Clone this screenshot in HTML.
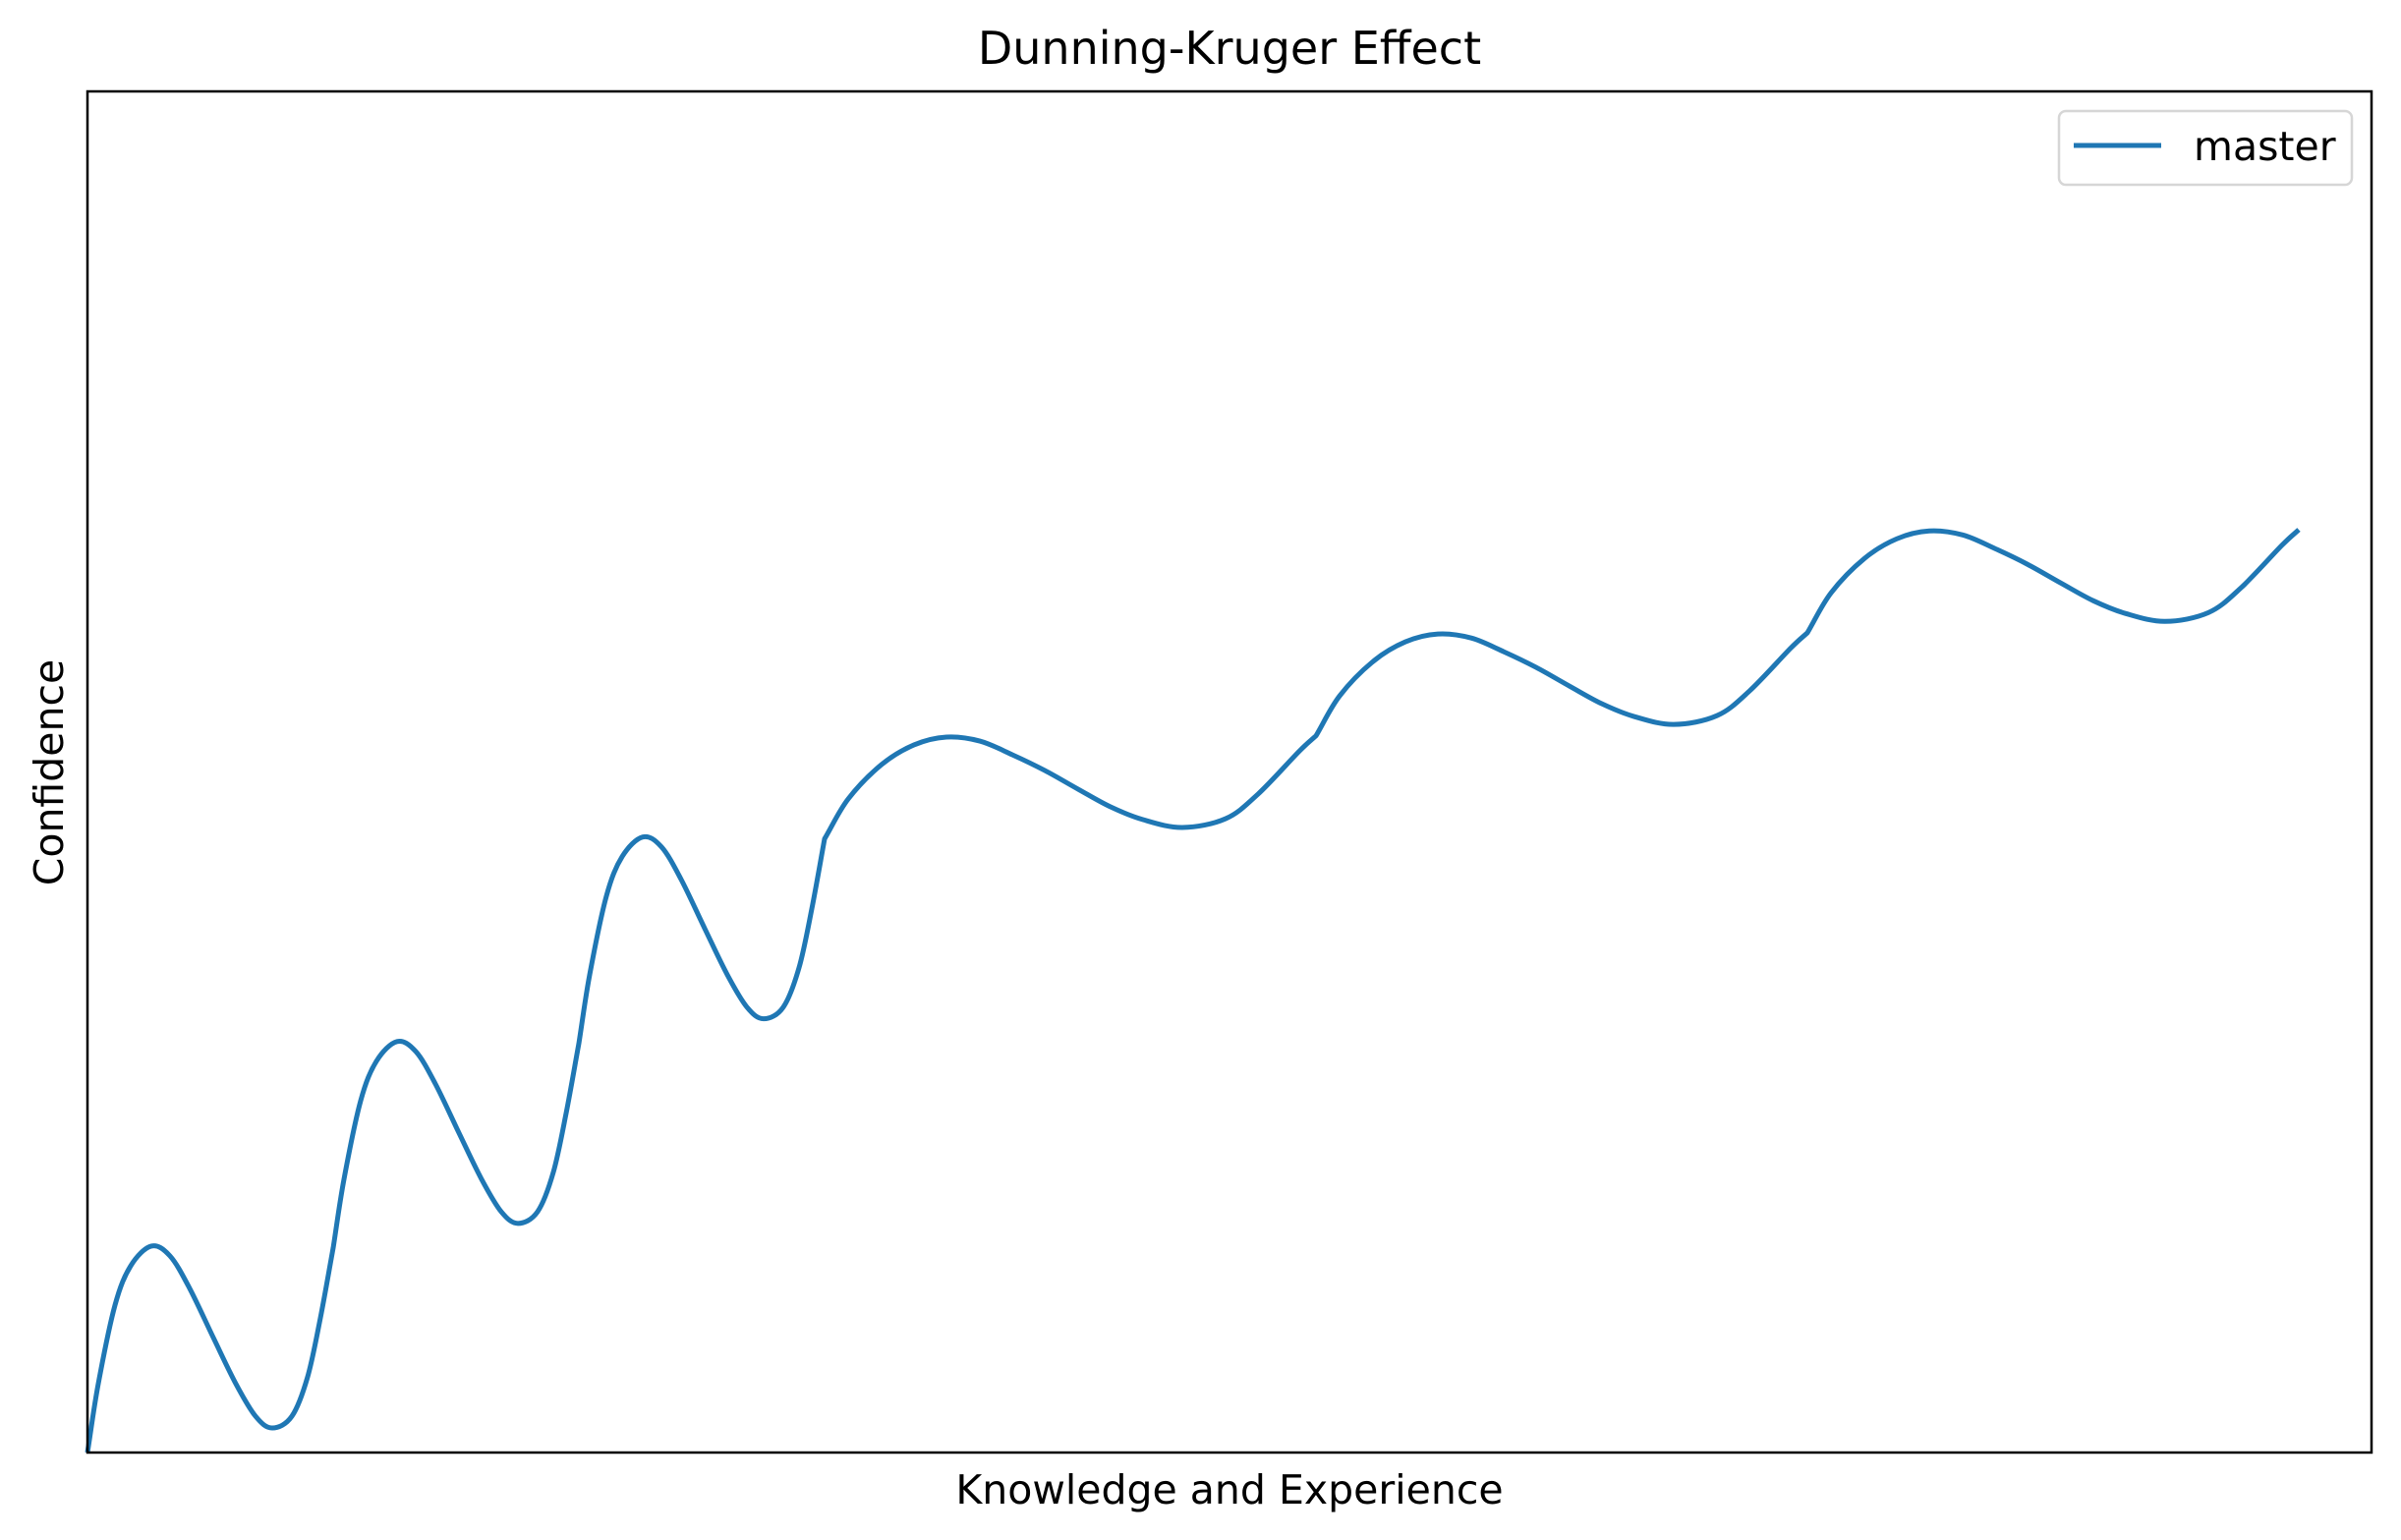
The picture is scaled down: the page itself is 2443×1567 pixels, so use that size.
<!DOCTYPE html>
<html><head><meta charset="utf-8"><style>
html,body{margin:0;padding:0;background:#fff;}
svg{display:block;}
text{font-family:"DejaVu Sans","Liberation Sans",sans-serif;fill:#000;}
</style></head><body>
<svg id="chart" width="2443" height="1567" viewBox="0 0 2443 1567">
<rect x="0" y="0" width="2443" height="1567" fill="#fff"/>
<text x="1251" y="65" font-size="46" text-anchor="middle">Dunning-Kruger Effect</text>
<text x="1251" y="1530" font-size="41" text-anchor="middle">Knowledge and Experience</text>
<text transform="translate(64,786) rotate(-90)" font-size="41" text-anchor="middle">Confidence</text>
<g id="plot"></g>
<rect x="89" y="93" width="2324" height="1385" fill="none" stroke="#000" stroke-width="2.5"/>
<g>
<rect x="2095" y="113" width="298" height="75" rx="7" fill="#fff" stroke="#d6d6d6" stroke-width="2.5"/>
<line x1="2110" y1="148" x2="2199" y2="148" stroke="#1f77b4" stroke-width="5"/>
<text x="2232" y="163" font-size="41">master</text>
</g>
</svg>
<script>
const xValues = [
 0,0.044,0.112,0.176,0.26,0.336,0.416,0.512,0.604,0.684,0.752,0.832,0.896,0.948,1,
 1.044,1.112,1.176,1.26,1.336,1.416,1.512,1.604,1.684,1.752,1.832,1.896,1.948,2,
 2.044,2.112,2.176,2.26,2.336,2.416,2.512,2.604,2.684,2.752,2.832,2.896,2.948,3,
 3.096,3.232,3.364,3.496,3.632,3.764,3.896,4.032,4.164,4.296,4.456,4.632,4.764,4.932,5,
 5.096,5.232,5.364,5.496,5.632,5.764,5.896,6.032,6.164,6.296,6.456,6.632,6.764,6.932,7,
 7.096,7.232,7.364,7.496,7.632,7.764,7.896,8.032,8.164,8.296,8.456,8.632,8.764,8.932,9];
const yValues = [
 0,4.47,9.58,12.14,13.42,12.78,10.67,7.48,4.47,2.36,1.6,2.36,4.92,8.75,13.3,
 17.77,22.88,25.44,26.72,26.08,23.97,20.78,17.77,15.66,14.9,15.66,18.22,22.05,26.6,
 31.07,36.18,38.74,40.02,39.38,37.27,34.08,31.07,28.96,28.2,28.96,31.52,35.35,39.9,
 42.49,44.73,46.01,46.52,46.26,45.37,44.35,43.13,41.98,41.15,40.64,41.21,42.81,45.6,46.6,
 49.19,51.43,52.71,53.22,52.96,52.07,51.05,49.83,48.68,47.85,47.34,47.91,49.51,52.3,53.3,
 55.89,58.13,59.41,59.92,59.66,58.77,57.75,56.53,55.38,54.55,54.04,54.61,56.21,59.0,60.0];
const segmentBreaks = [1,2,3,5,7];
const xMin = 0, xMax = 9.296, yMin = 0, yMax = 88.5;
const L = 89, R = 2413, T = 93, B = 1478;
function sx(v){ return L + (v - xMin) / (xMax - xMin) * (R - L); }
function sy(v){ return B - (v - yMin) / (yMax - yMin) * (B - T); }
const pts = xValues.map((x,i)=>[sx(x), sy(yValues[i])]);
const isBreak = xValues.map(x => segmentBreaks.some(b => Math.abs(b - x) < 1e-9));
let d = 'M' + pts[0][0].toFixed(2) + ',' + pts[0][1].toFixed(2);
for (let i=0;i<pts.length-1;i++){
  const p1 = pts[i], p2 = pts[i+1];
  const p0 = (i === 0 || isBreak[i]) ? [2*p1[0]-p2[0], 2*p1[1]-p2[1]] : pts[i-1];
  const p3 = (i+1 === pts.length-1 || isBreak[i+1]) ? [2*p2[0]-p1[0], 2*p2[1]-p1[1]] : pts[i+2];
  const c1x = p1[0] + (p2[0]-p0[0])/6, c1y = p1[1] + (p2[1]-p0[1])/6;
  const c2x = p2[0] - (p3[0]-p1[0])/6, c2y = p2[1] - (p3[1]-p1[1])/6;
  d += ' C' + c1x.toFixed(2)+','+c1y.toFixed(2)+' '+c2x.toFixed(2)+','+c2y.toFixed(2)+' '+p2[0].toFixed(2)+','+p2[1].toFixed(2);
}
const path = document.createElementNS('http://www.w3.org/2000/svg','path');
path.setAttribute('d', d);
path.setAttribute('fill','none');
path.setAttribute('stroke','#1f77b4');
path.setAttribute('stroke-width','5');
path.setAttribute('stroke-linejoin','round');


document.getElementById('plot').appendChild(path);
</script>
</body></html>
